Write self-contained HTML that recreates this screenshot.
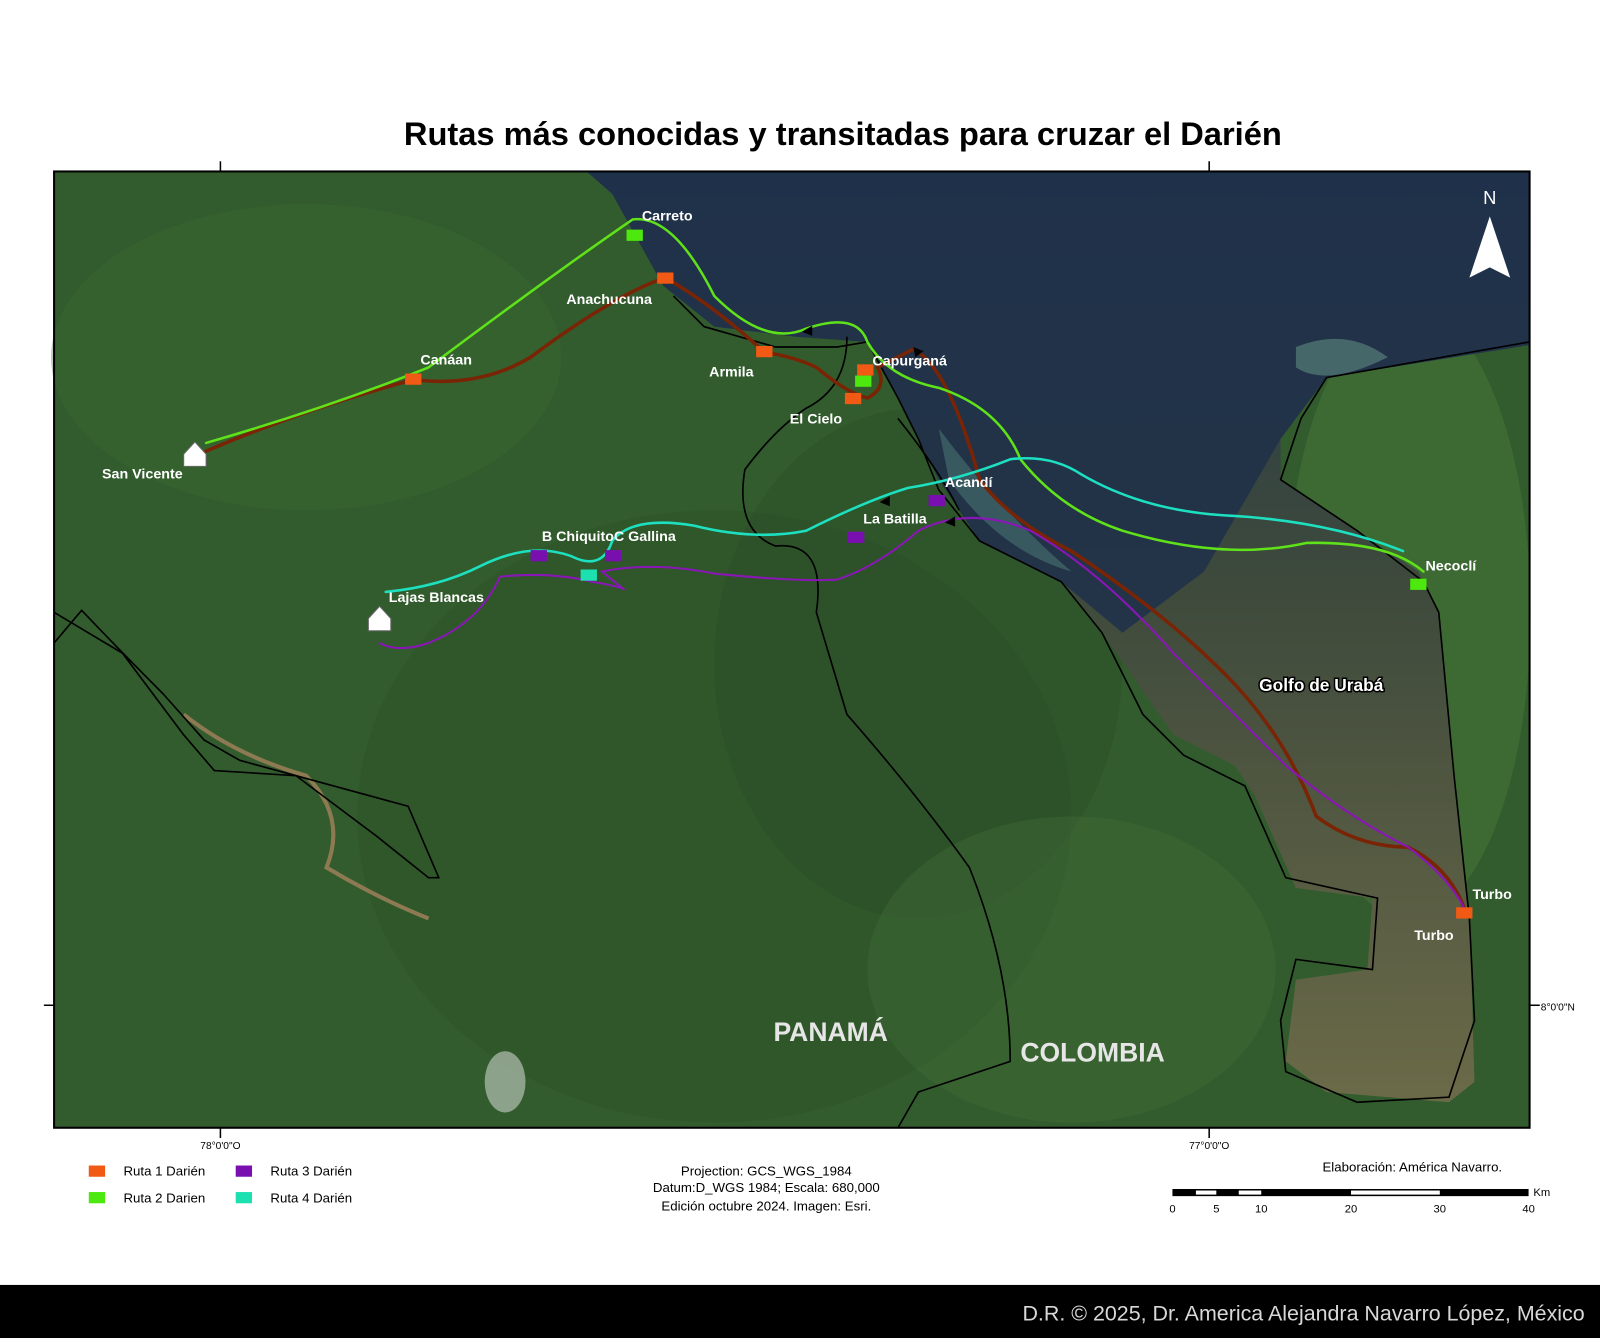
<!DOCTYPE html>
<html><head><meta charset="utf-8"><style>
html,body{margin:0;padding:0;background:#fff;width:1600px;height:1338px;overflow:hidden}
svg{display:block}
text{font-family:"Liberation Sans",Arial,sans-serif}
</style></head><body>
<svg width="1600" height="1338" viewBox="0 0 1568 1311" preserveAspectRatio="none" xmlns="http://www.w3.org/2000/svg">
<defs>
<linearGradient id="gulf" x1="0" y1="0" x2="0" y2="1"><stop offset="0" stop-color="#26384a"/><stop offset="0.45" stop-color="#3e4a3c"/><stop offset="1" stop-color="#6b6a48"/></linearGradient>
</defs>
<rect width="1568" height="1311" fill="#fff"/>
<text x="826" y="142" font-size="32" font-weight="bold" text-anchor="middle" fill="#000">Rutas más conocidas y transitadas para cruzar el Darién</text>
<rect x="53" y="168" width="1446" height="937" fill="#325c2d"/>
<ellipse cx="700" cy="800" rx="350" ry="300" fill="#2c5128" opacity="0.45"/>
<ellipse cx="300" cy="350" rx="250" ry="150" fill="#3d6a34" opacity="0.35"/>
<ellipse cx="900" cy="650" rx="200" ry="250" fill="#2a4c27" opacity="0.4"/>
<ellipse cx="1050" cy="950" rx="200" ry="150" fill="#46703a" opacity="0.35"/>
<ellipse cx="1380" cy="600" rx="120" ry="300" fill="#4c7a3c" opacity="0.45"/>
<path d="M575,168 L1499,168 L1499,338 L1300,370 L1255,430 L1255,470 L1330,520 L1390,560 L1410,600 L1425,760 L1440,900 L1445,1060 L1420,1080 L1300,1070 L1260,1040 L1270,960 L1340,950 L1345,880 L1270,870 L1230,780 L1210,750 L1150,720 L1080,620 L1040,570 L960,530 L920,470 L880,390 L850,335 L780,330 L700,320 L650,280 L600,190 Z" fill="url(#gulf)"/>
<path d="M575,168 L1499,168 L1499,338 L1300,370 L1255,430 L1180,560 L1100,620 L1040,570 L960,530 L920,470 L880,390 L850,335 L780,330 L700,320 L650,280 L600,190 Z" fill="#1f304a" opacity="0.85"/>
<path d="M1270,340 Q1320,320 1360,350 Q1300,380 1270,360 Z" fill="#5f8a7e" opacity="0.6"/>
<path d="M920,420 Q980,500 1050,560 Q980,540 930,470 Z" fill="#4f7f7a" opacity="0.5"/>
<ellipse cx="495" cy="1060" rx="20" ry="30" fill="#d8ddd8" opacity="0.55"/>
<path d="M180,700 Q230,740 300,760 Q340,800 320,850 Q370,880 420,900" stroke="#8d7a52" stroke-width="4" fill="none"/>
<g stroke="#000" stroke-width="1.6" fill="none">
<path d="M53,630 L80,598 Q120,640 160,680 L200,725 L235,745 L400,790 L430,860 L420,860 L370,820 L290,760 L210,755 L180,720 L120,640 L53,600"/>
<path d="M660,290 L690,320 L760,340 L820,340 L850,335 L880,390 L900,430 L920,480 L960,530 L1040,570 L1080,620 L1120,700 L1160,740 L1220,770 L1260,860 L1350,880 L1345,950 L1270,940 L1255,1000 L1260,1050 L1330,1080 L1420,1075 L1445,1000 L1440,900 L1425,760 L1410,600 L1395,570 L1330,520 L1285,490 L1255,470 L1275,410 L1300,370 L1499,335"/>
<path d="M830,330 Q830,380 790,400 Q760,420 730,460 Q720,520 760,535 Q810,530 800,600 L830,700 Q900,780 950,850 Q990,950 990,1040 L900,1070 L880,1105"/>
<path d="M880,410 Q920,460 940,500"/>
</g>
<g fill="none" stroke-linecap="round">
<path d="M202,442 Q300,400 405,372 Q470,380 520,350 Q600,290 652,272 Q700,300 749,345 Q780,350 800,360 Q830,385 850,390 Q870,380 860,360 Q880,350 895,342 Q930,360 960,470 Q990,510 1050,540 Q1140,600 1200,660 Q1260,720 1290,800 Q1330,830 1380,830 Q1420,850 1435,890" stroke="#7a2406" stroke-width="3.5"/>
<path d="M202,434 Q320,400 420,360 Q540,270 620,215 Q660,210 700,290 Q750,340 790,322 Q840,305 850,335 Q870,370 920,380 Q980,400 1000,450 Q1040,500 1100,520 Q1200,550 1280,532 Q1360,530 1395,560" stroke="#5fe21a" stroke-width="2.5"/>
<path d="M378,580 Q430,575 470,555 Q520,530 560,545 Q590,560 600,530 Q620,505 680,515 Q740,530 790,520 Q850,490 890,478 Q940,470 990,450 Q1030,445 1060,465 Q1120,500 1200,505 Q1300,510 1375,540" stroke="#1de0c0" stroke-width="2.5"/>
<path d="M372,630 Q390,640 420,630 Q470,610 490,565 Q540,560 580,570 Q610,575 612,578 L590,560 Q640,550 700,562 Q780,570 820,568 Q860,555 900,520 Q950,495 1010,520 Q1080,560 1150,640 Q1210,700 1260,750 Q1320,800 1380,830 Q1420,860 1435,890" stroke="#8b16b8" stroke-width="2"/>
</g>
<g fill="#000"><path d="M786,325 l10,-6 l0,10z"/><path d="M895,340 l10,4 l-8,6z"/><path d="M862,492 l10,-6 l0,10z"/><path d="M926,512 l10,-6 l0,10z"/></g>
<g>
<rect x="397" y="366" width="16" height="11" fill="#f05a14"/><rect x="644" y="267" width="16" height="11" fill="#f05a14"/><rect x="741" y="339" width="16" height="11" fill="#f05a14"/><rect x="840" y="357" width="16" height="11" fill="#f05a14"/><rect x="828" y="385" width="16" height="11" fill="#f05a14"/><rect x="1427" y="889" width="16" height="11" fill="#f05a14"/>
<rect x="614" y="225" width="16" height="11" fill="#4de80e"/><rect x="838" y="368" width="16" height="11" fill="#4de80e"/><rect x="1382" y="567" width="16" height="11" fill="#4de80e"/>
<rect x="520" y="539" width="16" height="11" fill="#7a0fb0"/><rect x="593" y="539" width="16" height="11" fill="#7a0fb0"/><rect x="831" y="521" width="16" height="11" fill="#7a0fb0"/><rect x="910" y="485" width="16" height="11" fill="#7a0fb0"/>
<rect x="569" y="558" width="16" height="11" fill="#1de0b0"/>
<path d="M180,445 l11,-12 l11,12 l0,12 l-22,0z" fill="#fff" stroke="#666"/>
<path d="M361,606 l11,-12 l11,12 l0,12 l-22,0z" fill="#fff" stroke="#666"/>
</g>
<g fill="#fff" font-weight="bold" font-size="14">
<text x="629" y="216">Carreto</text><text x="555" y="298">Anachucuna</text><text x="412" y="357">Canáan</text><text x="695" y="369">Armila</text><text x="855" y="358">Capurganá</text><text x="774" y="415">El Cielo</text><text x="100" y="469">San Vicente</text><text x="926" y="477">Acandí</text><text x="846" y="513">La Batilla</text><text x="531" y="530">B ChiquitoC Gallina</text><text x="381" y="590">Lajas Blancas</text><text x="1397" y="559">Necoclí</text><text x="1443" y="881">Turbo</text><text x="1386" y="921">Turbo</text>
<text x="1234" y="677" font-size="17" stroke="#000" stroke-width="3" paint-order="stroke">Golfo de Urabá</text>
<text x="758" y="1020" font-size="26" fill="#e6e6e6">PANAMÁ</text><text x="1000" y="1040" font-size="26" fill="#e6e6e6">COLOMBIA</text>
</g>
<text x="1460" y="200" font-size="18" fill="#fff" font-family="Liberation Serif" text-anchor="middle">N</text>
<path d="M1460,212 L1480,272 L1460,262 L1440,272 Z" fill="#fff"/>
<rect x="53" y="168" width="1446" height="937" fill="none" stroke="#000" stroke-width="2"/>
<g stroke="#000" stroke-width="1.5"><path d="M216,158 v10 M1185,158 v10 M216,1105 v10 M1185,1105 v10 M43,985 h10 M1499,985 h10"/></g>
<g font-size="10" fill="#000"><text x="216" y="1126" text-anchor="middle">78°0'0"O</text><text x="1185" y="1126" text-anchor="middle">77°0'0"O</text><text x="1510" y="990">8°0'0"N</text></g>
<g font-size="13" fill="#000">
<rect x="87" y="1142" width="16" height="11" fill="#f05a14"/><text x="121" y="1152">Ruta 1 Darién</text>
<rect x="87" y="1168" width="16" height="11" fill="#4de80e"/><text x="121" y="1178">Ruta 2 Darien</text>
<rect x="231" y="1142" width="16" height="11" fill="#7a0fb0"/><text x="265" y="1152">Ruta 3 Darién</text>
<rect x="231" y="1168" width="16" height="11" fill="#1de0b0"/><text x="265" y="1178">Ruta 4 Darién</text>
<text x="751" y="1152" text-anchor="middle">Projection: GCS_WGS_1984</text>
<text x="751" y="1168" text-anchor="middle">Datum:D_WGS 1984; Escala: 680,000</text>
<text x="751" y="1186" text-anchor="middle">Edición octubre 2024. Imagen: Esri.</text>
<text x="1296" y="1148">Elaboración: América Navarro.</text>
</g>
<rect x="1149" y="1165" width="349" height="7" fill="#000"/>
<g fill="#fff"><rect x="1172" y="1166.5" width="20" height="4"/><rect x="1214" y="1166.5" width="22" height="4"/><rect x="1324" y="1166.5" width="87" height="4"/></g>
<g font-size="11" fill="#000" text-anchor="middle"><text x="1149" y="1188">0</text><text x="1192" y="1188">5</text><text x="1236" y="1188">10</text><text x="1324" y="1188">20</text><text x="1411" y="1188">30</text><text x="1498" y="1188">40</text><text x="1511" y="1172">Km</text></g>
<rect x="0" y="1259" width="1568" height="52" fill="#000"/>
<text x="1553" y="1294" font-size="21" fill="#d8d8d8" text-anchor="end">D.R. © 2025, Dr. America Alejandra Navarro López, México</text>
</svg>
</body></html>
